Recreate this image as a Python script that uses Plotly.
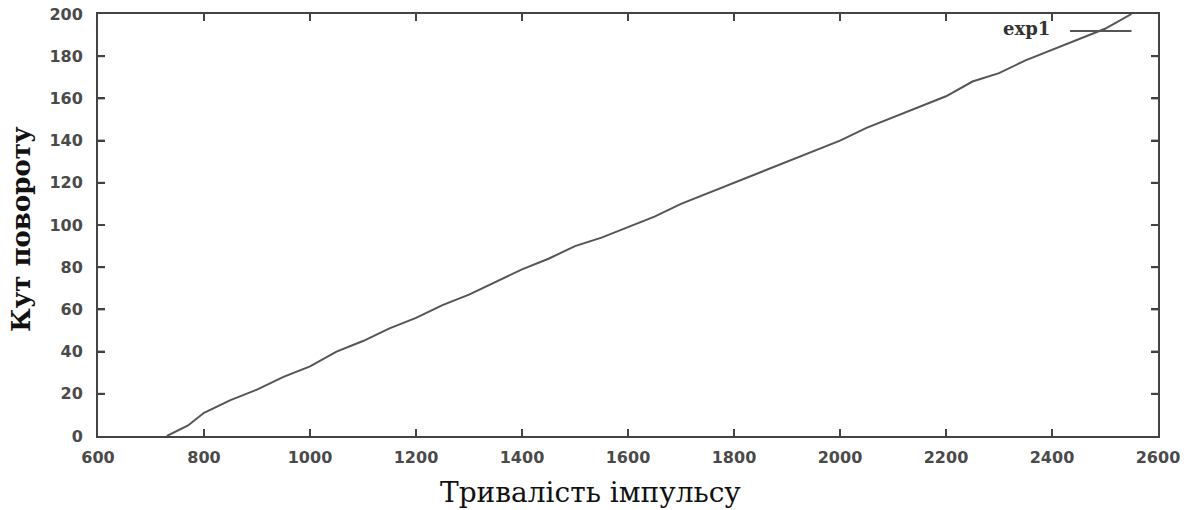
import plotly.graph_objects as go

x_vals = [730, 770, 800, 850, 900, 950, 1000, 1050, 1100, 1150, 1200, 1250, 1300, 1350,
          1400, 1450, 1500, 1550, 1600, 1650, 1700, 1750, 1800, 1850, 1900, 1950, 2000,
          2050, 2100, 2150, 2200, 2250, 2300, 2350, 2400, 2450, 2500, 2550]
y_vals = [0, 5, 11, 17, 22, 28, 33, 40, 45, 51, 56, 62, 67, 73,
          79, 84, 90, 94, 99, 104, 110, 115, 120, 125, 130, 135, 140,
          146, 151, 156, 161, 168, 172, 178, 183, 188, 193, 200]
x_ticks = [600, 800, 1000, 1200, 1400, 1600, 1800, 2000, 2200, 2400, 2600]
y_ticks = [0, 20, 40, 60, 80, 100, 120, 140, 160, 180, 200]
series_name = "exp1"
x_title = "Тривалість імпульсу"
y_title = "Кут повороту"

fig = go.Figure()
fig.add_trace(go.Scatter(x=x_vals, y=y_vals, mode="lines", name=series_name,
                         line=dict(color="#555555", width=2), showlegend=False))

axis_common = dict(showgrid=False, zeroline=False, showline=True, linecolor="#444444",
                   linewidth=2, mirror="allticks", ticks="inside", ticklen=7, tickwidth=2,
                   tickcolor="#333333", automargin=False,
                   tickfont=dict(family="DejaVu Sans", size=16, color="#4a4a4a", weight="bold"))

fig.update_xaxes(range=[600, 2600], tickvals=x_ticks, ticklabelstandoff=6, **axis_common)
fig.update_yaxes(range=[0, 200], tickvals=y_ticks, ticklabelstandoff=10, **axis_common)

# gnuplot-style inward tick marks on all four sides, derived from the tick lists
tick_style = dict(color="#444444", width=2)
tlx = 7 / 422   # tick length in paper units (vertical)
tly = 7 / 1060  # tick length in paper units (horizontal)
for t in x_ticks[1:-1]:
    fig.add_shape(type="line", xref="x", yref="paper", x0=t, x1=t, y0=0, y1=tlx, line=tick_style)
    fig.add_shape(type="line", xref="x", yref="paper", x0=t, x1=t, y0=1, y1=1 - tlx, line=tick_style)
for t in y_ticks[1:-1]:
    fig.add_shape(type="line", xref="paper", yref="y", x0=0, x1=tly, y0=t, y1=t, line=tick_style)
    fig.add_shape(type="line", xref="paper", yref="y", x0=1, x1=1 - tly, y0=t, y1=t, line=tick_style)

# axis titles
fig.add_annotation(xref="paper", yref="paper", x=(590 - 98) / 1060, y=(436 - 492) / 422,
                   xanchor="center", yanchor="middle", text=x_title, showarrow=False,
                   font=dict(family="DejaVu Serif", size=28, color="#111111"))
fig.add_annotation(xref="paper", yref="paper", x=(21 - 98) / 1060, y=(436 - 229) / 422,
                   xanchor="center", yanchor="middle", text=y_title, showarrow=False, textangle=-90,
                   font=dict(family="DejaVu Serif", size=26, color="#111111", weight="bold"))

# legend (gnuplot style: text then sample)
fig.add_annotation(xref="paper", yref="paper", x=0.900, y=(436 - 29) / 422, xanchor="right",
                   yanchor="middle", text=series_name, showarrow=False,
                   font=dict(family="DejaVu Serif", size=18, color="#333333", weight="bold"))
fig.add_shape(type="line", xref="paper", yref="paper", x0=0.917, x1=0.975,
              y0=(436 - 31) / 422, y1=(436 - 31) / 422,
              line=dict(color="#555555", width=2))

fig.update_layout(width=1195, height=510, margin=dict(l=98, r=37, t=14, b=74),
                  plot_bgcolor="white", paper_bgcolor="white")

fig.write_html("out.html", config={"displayModeBar": False},
               post_script="document.body.style.margin='0';")
